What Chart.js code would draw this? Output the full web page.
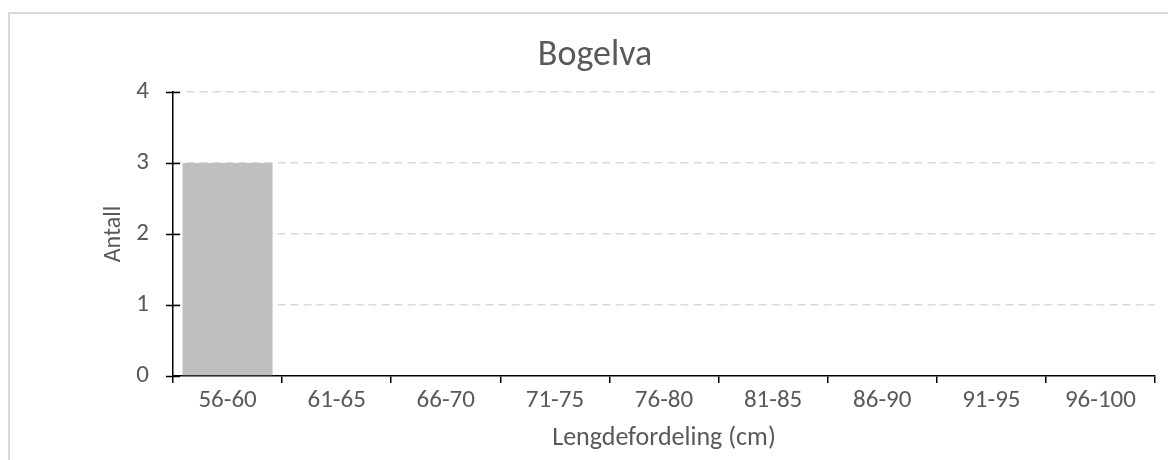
<!DOCTYPE html>
<html>
<head>
<meta charset="utf-8">
<script src="https://cdn.jsdelivr.net/npm/chart.js@4"></script>
<style>
    html, body { margin: 0; padding: 0; background: #fff; overflow: hidden; }
    #frame {
        position: absolute; left: 8px; top: 12px; width: 2000px; height: 2000px;
        border-left: 2px solid #d9d9d9; border-top: 2px solid #d9d9d9;
    }
    #chart { position: absolute; left: 0; top: 0; }
</style>
</head>
<body>
<div id="frame"></div>
<canvas id="chart" width="1168" height="460"></canvas>
<script>
const categories = ["56-60", "61-65", "66-70", "71-75", "76-80", "81-85", "86-90", "91-95", "96-100"];
const counts = [3, 0, 0, 0, 0, 0, 0, 0, 0];
const yTicks = [0, 1, 2, 3, 4];

const TEXT = "#595959";
const FONT = "Carlito, Lato, sans-serif";

// y axis ticks in the reference cross the axis line
const crossTicks = {
    id: "crossTicks",
    afterDraw(chart) {
        const { ctx, chartArea, scales } = chart;
        ctx.save();
        ctx.strokeStyle = "#000";
        ctx.lineWidth = 1.5;
        yTicks.forEach((v) => {
            const y = Math.round(scales.y.getPixelForValue(v)) + 0.5;
            ctx.beginPath();
            ctx.moveTo(chartArea.left - 7, y);
            ctx.lineTo(chartArea.left + 7, y);
            ctx.stroke();
        });
        ctx.restore();
    },
};

new Chart(document.getElementById("chart"), {
    type: "bar",
    data: {
        labels: categories,
        datasets: [{
            label: "Antall",
            data: counts,
            backgroundColor: "#bfbfbf",
            categoryPercentage: 1,
            barPercentage: 0.825,
        }],
    },
    options: {
        responsive: false,
        animation: false,
        // left padding pushes the title centre right, like the reference
        layout: { padding: { left: 35, right: 13, top: 0, bottom: 0 } },
        plugins: {
            legend: { display: false },
            tooltip: { enabled: false },
            title: {
                display: true,
                text: "Bogelva",
                color: TEXT,
                font: { family: FONT, size: 36, weight: "normal" },
                padding: { top: 34.4, bottom: 14.4 },
            },
        },
        scales: {
            x: {
                offset: true,
                grid: {
                    offset: true,
                    drawOnChartArea: false,
                    color: "#000",
                    lineWidth: 1.5,
                    tickLength: 7,
                },
                border: { display: true, color: "#000", width: 1.5 },
                ticks: { color: TEXT, font: { family: FONT, size: 25 }, padding: 3, maxRotation: 0 },
                title: {
                    display: true,
                    text: "Lengdefordeling (cm)",
                    color: TEXT,
                    font: { family: FONT, size: 26 },
                    padding: { top: 0, bottom: 6.4 },
                },
                afterFit(scale) { scale.height = 84; },
            },
            y: {
                min: 0,
                max: 4,
                ticks: { stepSize: 1, color: TEXT, font: { family: FONT, size: 25 }, padding: 24 },
                grid: {
                    drawTicks: false,
                    color: (c) => (c.tick && c.tick.value === 0 ? "rgba(0,0,0,0)" : "#d9d9d9"),
                    lineWidth: 1.5,
                },
                border: { display: true, color: "#000", width: 1.5, dash: [8, 5] },
                title: {
                    display: true,
                    text: "Antall",
                    color: TEXT,
                    font: { family: FONT, size: 24 },
                    padding: { top: 64.6, bottom: 0 },
                },
                afterFit(scale) { scale.width = 138; },
            },
        },
    },
    plugins: [crossTicks],
});
</script>
</body>
</html>
